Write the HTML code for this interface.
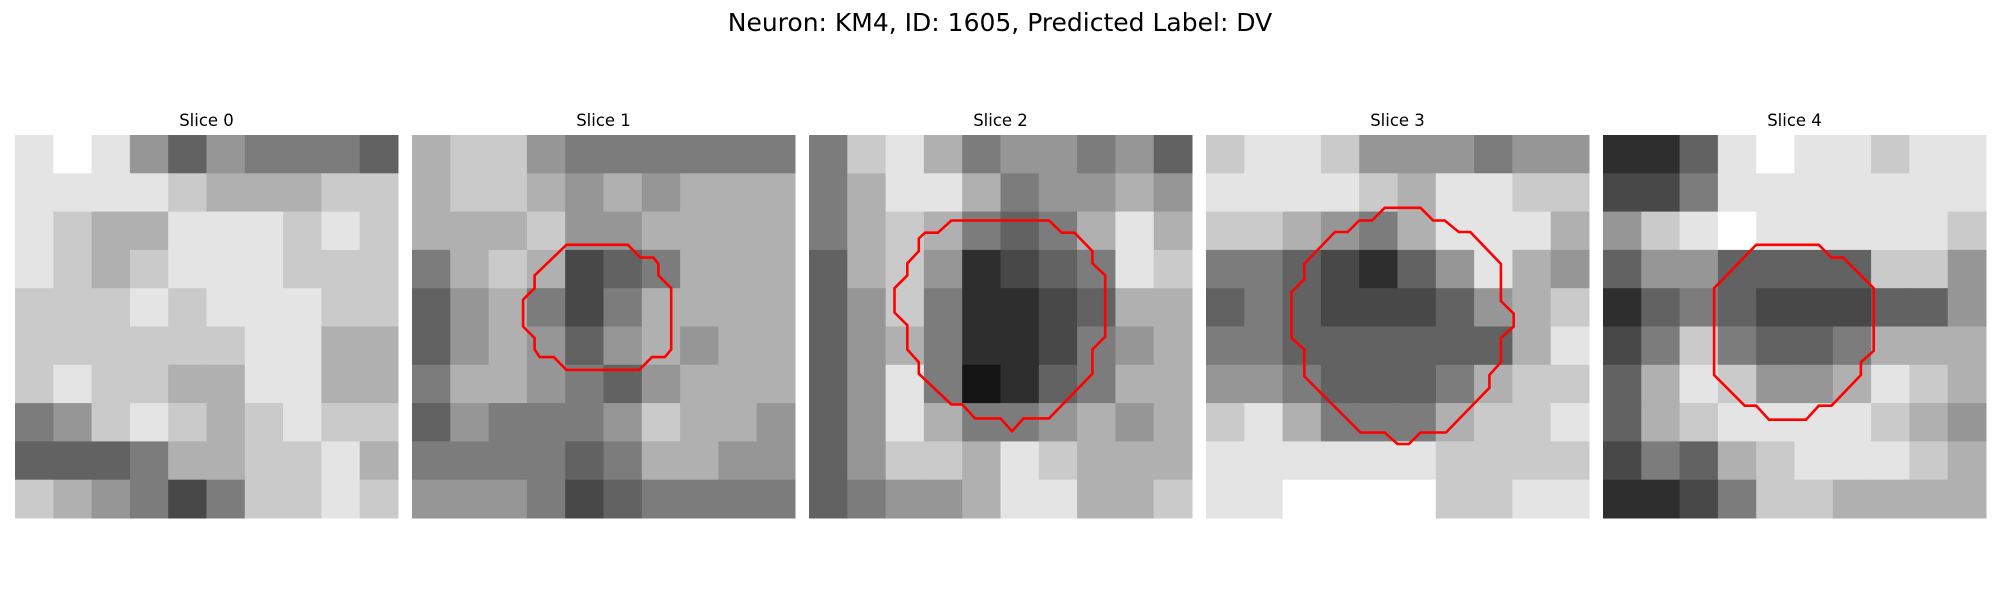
<!DOCTYPE html>
<html><head><meta charset="utf-8"><style>
html,body{margin:0;padding:0;background:#fff;}
svg{display:block;font-family:"DejaVu Sans","Liberation Sans",sans-serif;}
</style></head><body>
<svg id="fig" width="2000" height="600" viewBox="0 0 2000 600">
<text x="1000" y="31" text-anchor="middle" font-size="25" fill="#000">Neuron: KM4, ID: 1605, Predicted Label: DV</text>
<g id="panels"></g>
</svg>
<script>
const sliceTitles = ["Slice 0","Slice 1","Slice 2","Slice 3","Slice 4"];
// coarse intensity grids (10x10 blocks, 0=black .. 9=white)
const slice0 = [
[8,9,8,5,3,5,4,4,4,3],[8,8,8,8,7,6,6,6,7,7],[8,7,6,6,8,8,8,7,8,7],[8,7,6,7,8,8,8,7,7,7],[7,7,7,8,7,8,8,8,7,7],
[7,7,7,7,7,7,8,8,6,6],[7,8,7,7,6,6,8,8,6,6],[4,5,7,8,7,6,7,8,7,7],[3,3,3,4,6,6,7,7,8,6],[7,6,5,4,2,4,7,7,8,7]];
const slice1 = [
[6,7,7,5,4,4,4,4,4,4],[6,7,7,6,5,6,5,6,6,6],[6,6,6,7,5,5,6,6,6,6],[4,6,7,6,2,3,4,6,6,6],[3,5,6,4,2,4,6,6,6,6],
[3,5,6,5,3,5,6,5,6,6],[4,6,6,5,4,3,5,6,6,6],[3,5,4,4,4,5,7,6,6,5],[4,4,4,4,3,4,6,6,5,5],[5,5,5,4,2,3,4,4,4,4]];
const slice2 = [
[4,7,8,6,4,5,5,4,5,3],[4,6,8,8,6,4,5,5,6,5],[4,6,7,6,4,3,4,6,8,6],[3,6,7,5,1,2,3,4,8,7],[3,5,7,4,1,1,2,3,6,6],
[3,5,6,4,1,1,2,4,5,6],[3,5,8,4,0,1,3,4,6,6],[3,5,8,6,4,4,5,6,5,6],[3,5,7,7,6,8,7,6,6,6],[3,4,5,5,6,8,8,6,6,7]];
const slice3 = [
[7,8,8,7,5,5,5,4,5,5],[8,8,8,8,7,6,8,8,7,7],[7,7,6,5,4,6,8,8,8,6],[4,4,3,2,1,3,5,8,6,5],[3,4,3,2,2,2,3,5,6,7],
[4,4,3,3,3,3,3,3,6,8],[5,5,4,3,3,3,4,6,7,7],[7,8,6,4,4,4,6,7,7,8],[8,8,8,8,8,8,7,7,7,7],[8,8,9,9,9,9,7,7,8,8]];
const slice4 = [
[1,1,3,8,9,8,8,7,8,8],[2,2,4,8,8,8,8,8,8,8],[5,7,8,9,8,8,8,8,8,7],[3,5,5,3,3,3,3,7,7,5],[1,3,4,3,2,2,2,3,3,5],
[2,4,7,4,3,3,4,6,6,6],[3,6,8,7,5,5,6,8,7,6],[3,6,7,8,8,8,8,7,6,5],[2,4,3,6,7,8,8,8,7,6],[1,1,2,4,7,7,6,6,6,6]];
// contours in cell units (30x30 grid); null = no contour
const contour1 = [[12.1,8.6],[16.9,8.6],[17.9,9.6],[18.9,9.6],[19.3,10.1],[19.3,11],[20.3,12],[20.3,16.8],[19.8,17.4],[18.8,17.4],[17.8,18.4],[12.1,18.4],[11.1,17.4],[10,17.4],[9.6,16.8],[9.6,15.9],[8.7,15],[8.7,12.9],[9.6,12],[9.6,11]];
const contour2 = [[11.15,6.7],[18.8,6.7],[19.8,7.65],[20.8,7.65],[22.2,9.1],[22.2,10.05],[23.2,11],[23.2,15.8],[22.2,16.8],[22.2,18.7],[18.8,22.2],[16.8,22.2],[15.9,23.2],[15,22.2],[13,22.2],[12,21.1],[11.15,21.1],[8.6,18.7],[8.6,17.8],[7.7,16.8],[7.7,14.9],[6.7,13.9],[6.7,12],[7.7,11],[7.7,10.05],[8.6,9.1],[8.6,8.1],[9.1,7.65],[10.1,7.65]];
const contour3 = [[14,5.7],[16.8,5.7],[17.8,6.7],[18.7,6.7],[19.8,7.6],[20.7,7.6],[23.1,10.1],[23.1,13],[24.1,14],[24.1,15],[23.1,15.9],[23.1,17.8],[22.2,18.8],[22.2,19.8],[18.8,23.3],[16.8,23.3],[15.9,24.2],[15,24.2],[14,23.3],[12.1,23.3],[7.7,18.9],[7.7,16.8],[6.7,15.9],[6.7,12.3],[7.7,11.3],[7.7,10.1],[10.1,7.6],[11.1,7.6],[12,6.7],[13,6.7]];
const contour4 = [[12,8.6],[16.9,8.6],[17.9,9.6],[18.8,9.6],[21.2,12],[21.2,16.9],[20.2,17.8],[20.2,18.8],[17.9,21.2],[16.9,21.2],[15.9,22.3],[13,22.3],[12,21.2],[11.1,21.2],[8.7,18.8],[8.7,12]];

const grids = [slice0,slice1,slice2,slice3,slice4];
const contours = [null,contour1,contour2,contour3,contour4];
const NS = "http://www.w3.org/2000/svg";
const P0 = 15, PSTEP = 397, PTOP = 135, PSIZE = 383, NCELL = 30;
const g = document.getElementById('panels');
function xScale(i, c){ return P0 + i*PSTEP + c*PSIZE/NCELL; }
function yScale(c){ return PTOP + c*PSIZE/NCELL; }
function gray(v){ const k = Math.round(20 + v*26); return `rgb(${k},${k},${k})`; }
grids.forEach((grid, i) => {
  const pg = document.createElementNS(NS,'g');
  
  
  const t = document.createElementNS(NS,'text');
  
  
  t.setAttribute('x', xScale(i, NCELL/2)); t.setAttribute('y', 126);
  t.setAttribute('text-anchor','middle'); t.setAttribute('font-size','16.5');
  t.textContent = sliceTitles[i];
  pg.appendChild(t);
  const n = grid.length, bs = NCELL / n;
  grid.forEach((row, r) => row.forEach((v, c) => {
    const rc = document.createElementNS(NS,'rect');
    
    
    const x0 = xScale(i, c*bs), x1 = xScale(i, (c+1)*bs);
    const y0 = yScale(r*bs), y1 = yScale((r+1)*bs);
    rc.setAttribute('x', x0); rc.setAttribute('y', y0);
    rc.setAttribute('width', x1-x0+0.5); rc.setAttribute('height', y1-y0+0.5);
    rc.setAttribute('fill', gray(v));
    pg.appendChild(rc);
  }));
  const ct = contours[i];
  if (ct) {
    const pl = document.createElementNS(NS,'polygon');
    
    
    pl.setAttribute('points', ct.map(p => xScale(i,p[0]).toFixed(1)+','+yScale(p[1]).toFixed(1)).join(' '));
    pl.setAttribute('fill','none'); pl.setAttribute('stroke','#ff0000'); pl.setAttribute('stroke-width','2.6');
    pg.appendChild(pl);
  }
  g.appendChild(pg);
});
</script>
</body></html>
